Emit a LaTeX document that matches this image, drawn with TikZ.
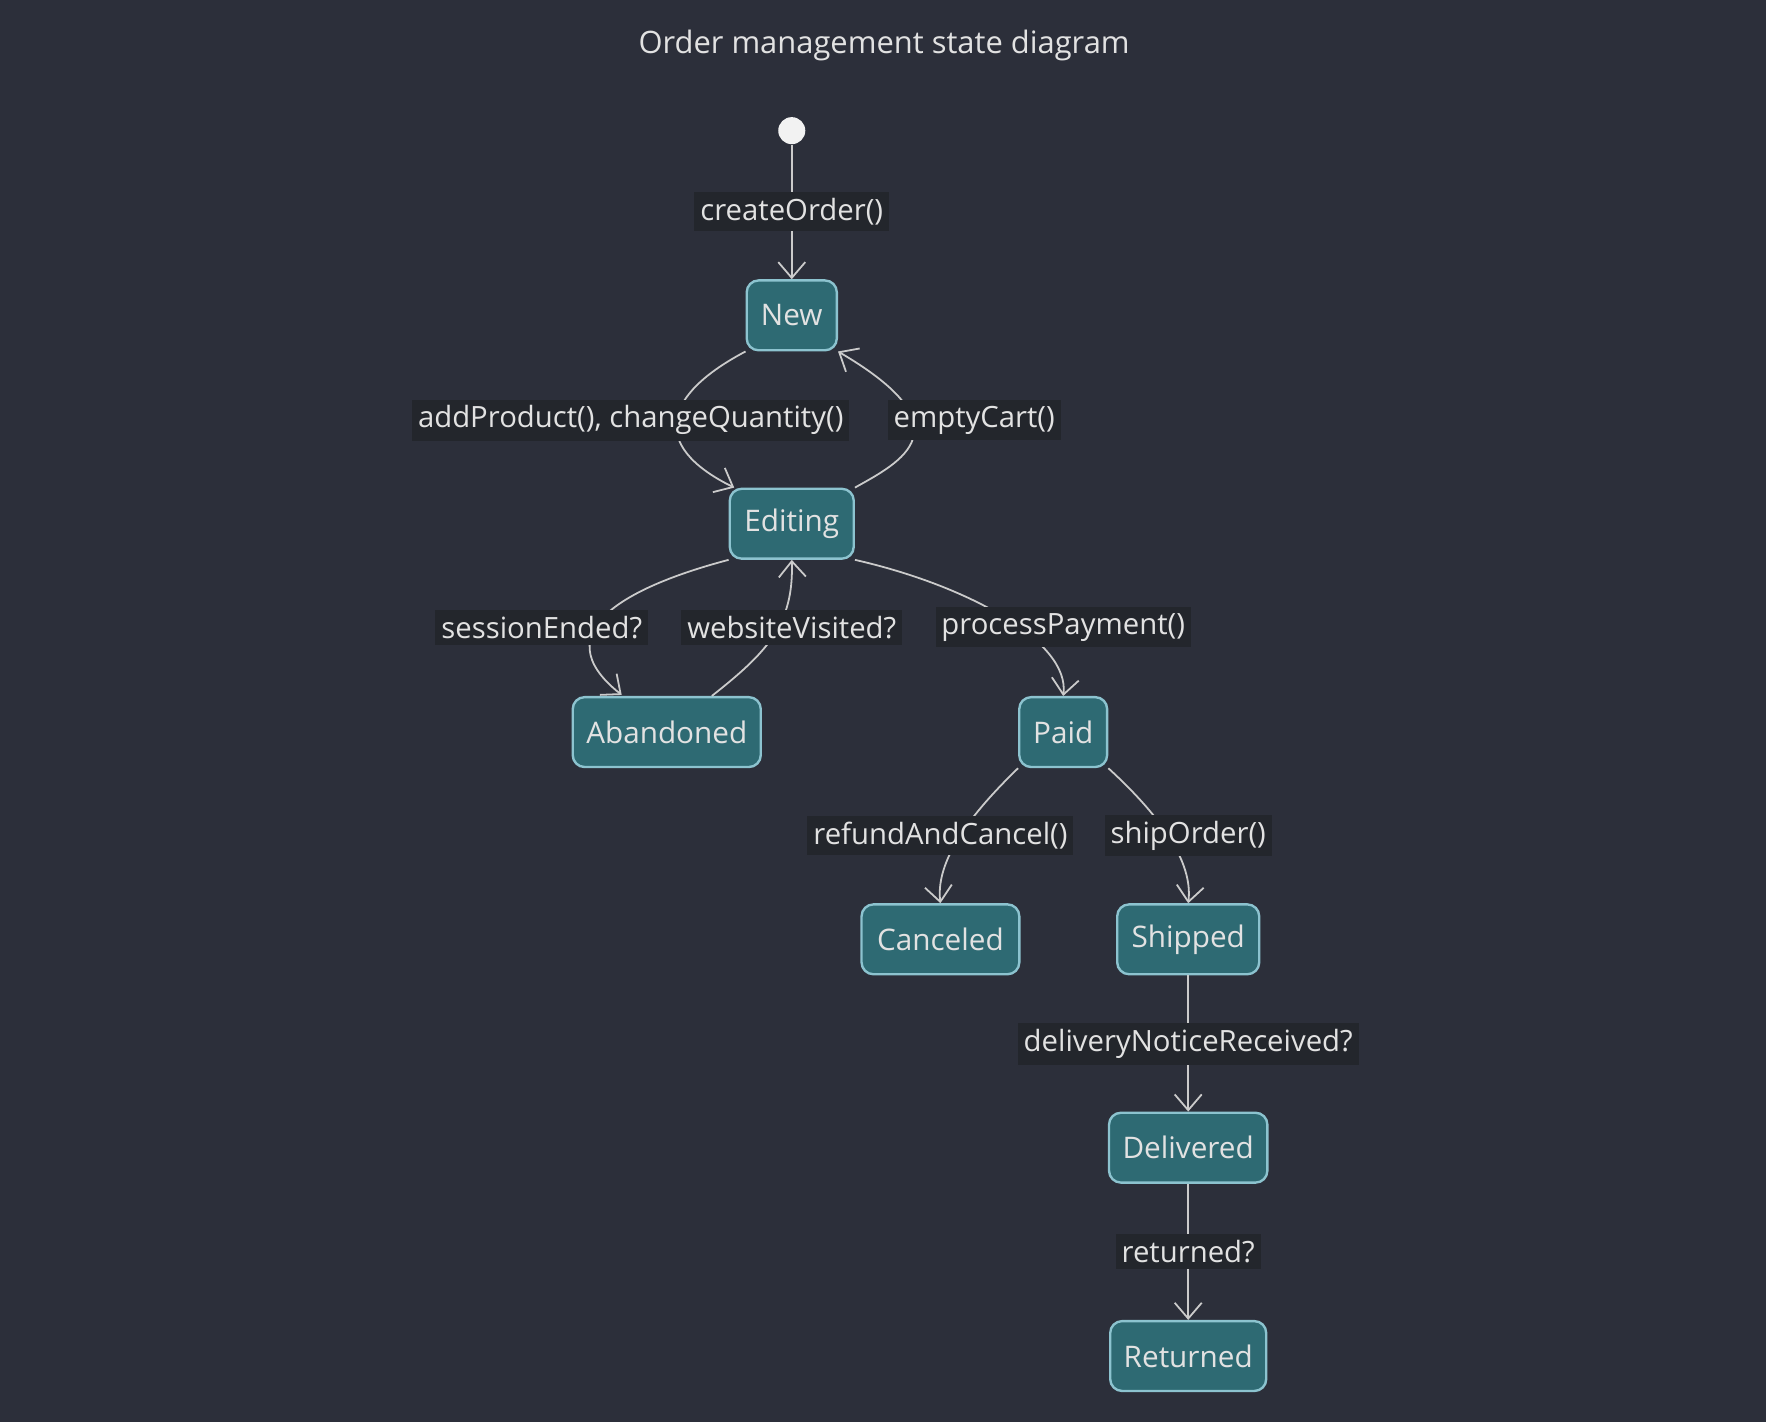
\documentclass[tikz,border=0pt]{standalone}
\usepackage{fontspec}
\setmainfont{Open Sans}
\usetikzlibrary{arrows.meta}
\definecolor{bgcol}{HTML}{2C2F3A}
\definecolor{statefill}{HTML}{2E6A73}
\definecolor{stateline}{HTML}{8CC3CF}
\definecolor{labelbg}{HTML}{23262C}
\definecolor{txtcol}{HTML}{E2E2E2}
\tikzset{
  state/.style={draw=stateline,fill=statefill,text=txtcol,rounded corners=3pt,line width=0.6pt,
    minimum height=0.62cm,inner xsep=0.12cm,font=\fontsize{7.5}{9}\selectfont},
  trans/.style={draw=txtcol!90!black,line width=0.45pt,-{Straight Barb[length=1.4mm,width=2.4mm]}},
  lbl/.style={fill=labelbg,text=txtcol,inner sep=1.5pt,font=\fontsize{7.4}{9}\selectfont}
}
\begin{document}
\begin{tikzpicture}[x=0.01cm,y=-0.01cm]
\fill[bgcol] (0,0) rectangle (1568,1263);
\useasboundingbox (0,0) rectangle (1568,1263);
\node[text=txtcol,font=\fontsize{7.8}{9}\selectfont] (title) at (785,40) {Order management state diagram};

\node[circle,fill=white!95!black,minimum size=0.24cm,inner sep=0pt] (start) at (703,116) {};
\node[state,minimum width=0.8cm] (New) at (703,280) {New};
\node[state,minimum width=1.1cm] (Editing) at (703,465) {Editing};
\node[state,minimum width=1.66cm] (Abandoned) at (592,650) {Abandoned};
\node[state,minimum width=0.78cm] (Paid) at (944,650) {Paid};
\node[state,minimum width=1.4cm] (Canceled) at (835,834) {Canceled};
\node[state,minimum width=1.26cm] (Shipped) at (1055,834) {Shipped};
\node[state,minimum width=1.4cm] (Delivered) at (1055,1019) {Delivered};
\node[state,minimum width=1.37cm] (Returned) at (1055,1204) {Returned};

% transitions
\draw[trans] (start) -- (New);
\draw[trans] (New.south west) .. controls (590,350) and (575,395) .. ([xshift=0.05cm]Editing.north west);
\draw[trans] (Editing.north east) .. controls (800,410) and (860,380) .. (New.south east);
\draw[trans] (Editing.south west) .. controls (560,520) and (480,560) .. (552,617);
\draw[trans] (Abandoned.north) ++(0.4cm,0) .. controls (680,580) and (705,555) .. (Editing.south);
\draw[trans] (Editing.south east) .. controls (860,520) and (950,570) .. (Paid.north);
\draw[trans] (Paid.south west) .. controls (870,715) and (830,760) .. (Canceled.north);
\draw[trans] (Paid.south east) .. controls (1020,715) and (1060,760) .. (Shipped.north);
\draw[trans] (Shipped) -- (Delivered);
\draw[trans] (Delivered) -- (Returned);

% labels
\node[lbl] (l1) at (703,188) {createOrder()};
\node[lbl] (l2) at (560,373) {addProduct(), changeQuantity()};
\node[lbl] (l3) at (865,373) {emptyCart()};
\node[lbl] (l4) at (481,557) {sessionEnded?};
\node[lbl] (l5) at (703,557) {websiteVisited?};
\node[lbl] (l6) at (944,557) {processPayment()};
\node[lbl] (l7) at (835,742) {refundAndCancel()};
\node[lbl] (l8) at (1055,742) {shipOrder()};
\node[lbl] (l9) at (1055,927) {deliveryNoticeReceived?};
\node[lbl] (l10) at (1055,1111) {returned?};
\end{tikzpicture}
\end{document}
